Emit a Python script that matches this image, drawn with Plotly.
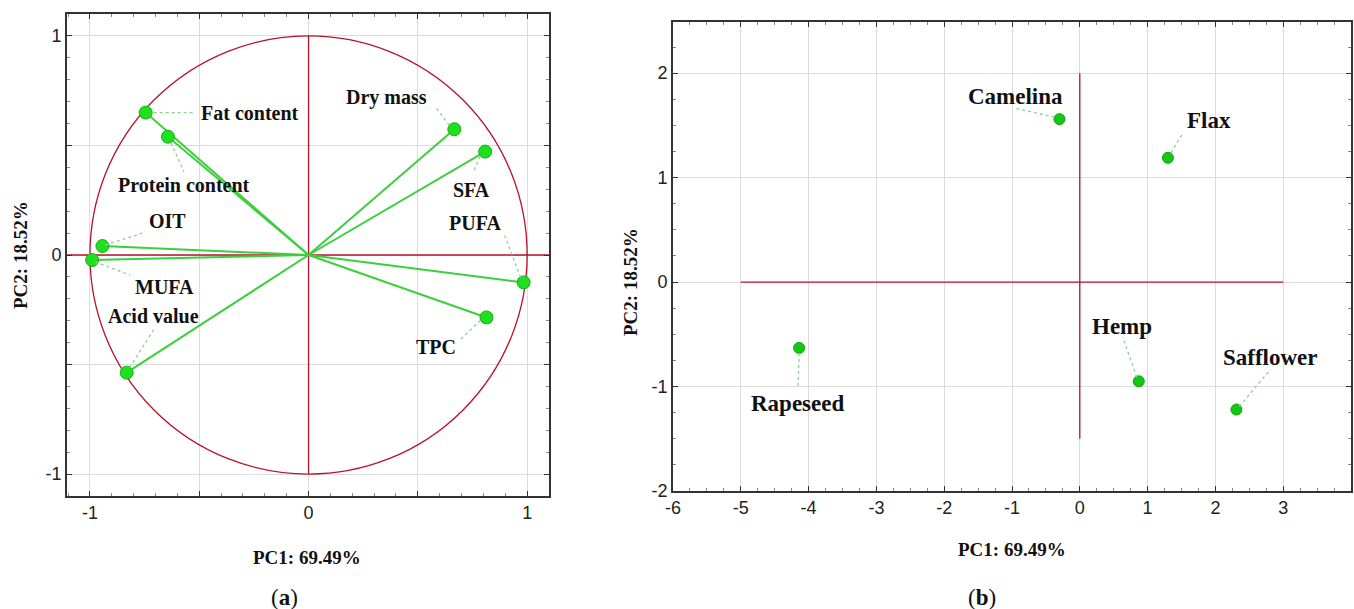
import plotly.graph_objects as go

W, H = 1354, 609

# ---------------- data ----------------
var_names = ["Fat content", "Protein content", "Dry mass", "SFA", "PUFA",
             "OIT", "MUFA", "Acid value", "TPC"]
pc1_load = [-0.745, -0.643, 0.667, 0.808, 0.984, -0.943, -0.990, -0.832, 0.814]
pc2_load = [0.650, 0.540, 0.574, 0.472, -0.125, 0.041, -0.023, -0.537, -0.285]

oil_names = ["Camelina", "Flax", "Rapeseed", "Hemp", "Safflower"]
pc1_score = [-0.30, 1.30, -4.14, 0.87, 2.31]
pc2_score = [1.56, 1.19, -0.63, -0.95, -1.22]

x_title = "PC1: 69.49%"
y_title = "PC2: 18.52%"

load_ticks = [-1, -0.5, 0, 0.5, 1]
load_ticktext = ["-1", "", "0", "", "1"]
score_xticks = [-6, -5, -4, -3, -2, -1, 0, 1, 2, 3, 4]
score_xticktext = ["-6", "-5", "-4", "-3", "-2", "-1", "0", "1", "2", "3", "4"]
score_yticks = [-2, -1, 0, 1, 2]
score_yticktext = ["-2", "-1", "0", "1", "2"]

# label placement (pixel offsets from the point: dx right, dy down)
var_label_off = [(104, 0), (16, 48), (-68, -32), (-14, 38), (-49, -59),
                 (65, -25), (72, 27), (27, -57), (-50, 30)]
var_leader = [((8, 0), (50, 0)), ((3, 6), (16, 35)), ((-5, -4), (-18, -21)),
              ((-5, 5), (-12, 21)), ((-3, -5), (-19, -47)), ((3, -1), (40, -13)),
              ((3, 2), (38, 15)), ((3, -5), (27, -43)), ((-6, 3), (-27, 23))]
oil_label_off = [(-44, -23), (41, -37), (-2, 56), (-17, -55), (34, -52)]
oil_leader = [((-5, -2), (-45, -11)), ((3, -5), (14, -23)), ((0, 5), (-1, 39)),
              ((-2, -4), (-16, -44)), ((3, -3), (34, -40))]

RED = "#b8122c"
GREEN_LINE = "#3ccf3c"
GREEN_PT = "#1ee01e"
LEADER = "#8fcf8f"
SERIF = "Liberation Serif"
SANS = "Liberation Sans"

fig = go.Figure()

# vectors from origin
vx, vy = [], []
for a, b in zip(pc1_load, pc2_load):
    vx += [0, a, None]
    vy += [0, b, None]
fig.add_trace(go.Scatter(x=vx, y=vy, mode="lines", line=dict(color=GREEN_LINE, width=2),
                         xaxis="x", yaxis="y", hoverinfo="skip"))
fig.add_trace(go.Scatter(x=pc1_load, y=pc2_load, mode="markers", text=var_names,
                         marker=dict(size=13, color=GREEN_PT, line=dict(color="#16b016", width=1)),
                         xaxis="x", yaxis="y"))
fig.add_trace(go.Scatter(x=pc1_score, y=pc2_score, mode="markers", text=oil_names,
                         marker=dict(size=11, color="#12c812", line=dict(color="#0f9f0f", width=1)),
                         xaxis="x2", yaxis="y2"))

shapes = []
# left panel: circle and red axes
shapes.append(dict(type="circle", xref="x", yref="y", x0=-1, y0=-1, x1=1, y1=1,
                   line=dict(color=RED, width=1.3), layer="between"))
shapes.append(dict(type="line", xref="x", yref="y", x0=-1.105, x1=1.10, y0=0, y1=0,
                   line=dict(color=RED, width=1.3), layer="between"))
shapes.append(dict(type="line", xref="x", yref="y", x0=0, x1=0, y0=-1, y1=1,
                   line=dict(color=RED, width=1.3), layer="between"))
# right panel: red axes
shapes.append(dict(type="line", xref="x2", yref="y2", x0=-5, x1=3, y0=0, y1=0,
                   line=dict(color=RED, width=1.3), layer="between"))
shapes.append(dict(type="line", xref="x2", yref="y2", x0=0, x1=0, y0=-1.5, y1=2,
                   line=dict(color=RED, width=1.3), layer="between"))

annotations = []


def add_labels(xs, ys, names, offs, leaders, xr, yr, size):
    for x, y, n, (dx, dy), ((sx, sy), (ex, ey)) in zip(xs, ys, names, offs, leaders):
        annotations.append(dict(x=x, y=y, xref=xr, yref=yr, text="<b>%s</b>" % n,
                                showarrow=False, xshift=dx, yshift=-dy,
                                font=dict(family=SERIF, size=size, color="#111")))
        shapes.append(dict(type="line", xref=xr, yref=yr, xsizemode="pixel",
                           ysizemode="pixel", xanchor=x, yanchor=y,
                           x0=sx, x1=ex, y0=-sy, y1=-ey,
                           line=dict(color=LEADER, width=1.3, dash="dot")))


add_labels(pc1_load, pc2_load, var_names, var_label_off, var_leader, "x", "y", 20)
add_labels(pc1_score, pc2_score, oil_names, oil_label_off, oil_leader, "x2", "y2", 23)


def P(px, py):
    return px / W, 1 - py / H


def paper_text(px, py, text, size, angle=0, family=SERIF):
    x, y = P(px, py)
    annotations.append(dict(x=x, y=y, xref="paper", yref="paper", text=text,
                            showarrow=False, textangle=angle, xanchor="center",
                            yanchor="middle", font=dict(family=family, size=size, color="#111")))


paper_text(20, 255, "<b>%s</b>" % y_title, 19, -90)
paper_text(307, 557, "<b>%s</b>" % x_title, 19)
paper_text(284, 597, "(<b>a</b>)", 23)
paper_text(630, 282, "<b>%s</b>" % y_title, 19, -90)
paper_text(1012, 549, "<b>%s</b>" % x_title, 19)
paper_text(982, 597, "(<b>b</b>)", 23)

axis_common = dict(showline=True, linecolor="#333", linewidth=1.6, mirror="ticks",
                   ticks="inside", ticklen=5, tickcolor="#333", zeroline=False,
                   gridcolor="#dcdcdc", gridwidth=1, automargin=False,
                   tickfont=dict(family=SANS, size=18, color="#222"))
minor_common = dict(ticks="inside", ticklen=3, tickcolor="#888", showgrid=False)

fig.update_layout(
    width=W, height=H, autosize=False,
    margin=dict(l=0, r=0, t=0, b=0, autoexpand=False),
    paper_bgcolor="white", plot_bgcolor="white", showlegend=False,
    xaxis=dict(domain=[67 / W, 549 / W], range=[-1.105, 1.10], anchor="y",
               tickvals=load_ticks, ticktext=load_ticktext,
               minor=dict(dtick=0.1, **minor_common), **axis_common),
    yaxis=dict(domain=[1 - 496 / H, 1 - 14 / H], range=[-1.10, 1.10], anchor="x",
               tickvals=load_ticks, ticktext=load_ticktext,
               minor=dict(dtick=0.1, **minor_common), **axis_common),
    xaxis2=dict(domain=[673 / W, 1351 / W], range=[-6, 4], anchor="y2",
                tickvals=score_xticks, ticktext=score_xticktext,
                minor=dict(dtick=0.25, **minor_common), **axis_common),
    yaxis2=dict(domain=[1 - 491 / H, 1 - 22 / H], range=[-2, 2.49], anchor="x2",
                tickvals=score_yticks, ticktext=score_yticktext,
                minor=dict(dtick=0.25, **minor_common), **axis_common),
    shapes=shapes, annotations=annotations,
)

fig.write_html("out.html", config={"displayModeBar": False},
               post_script="document.body.style.margin='0px';document.body.style.overflow='hidden';")
